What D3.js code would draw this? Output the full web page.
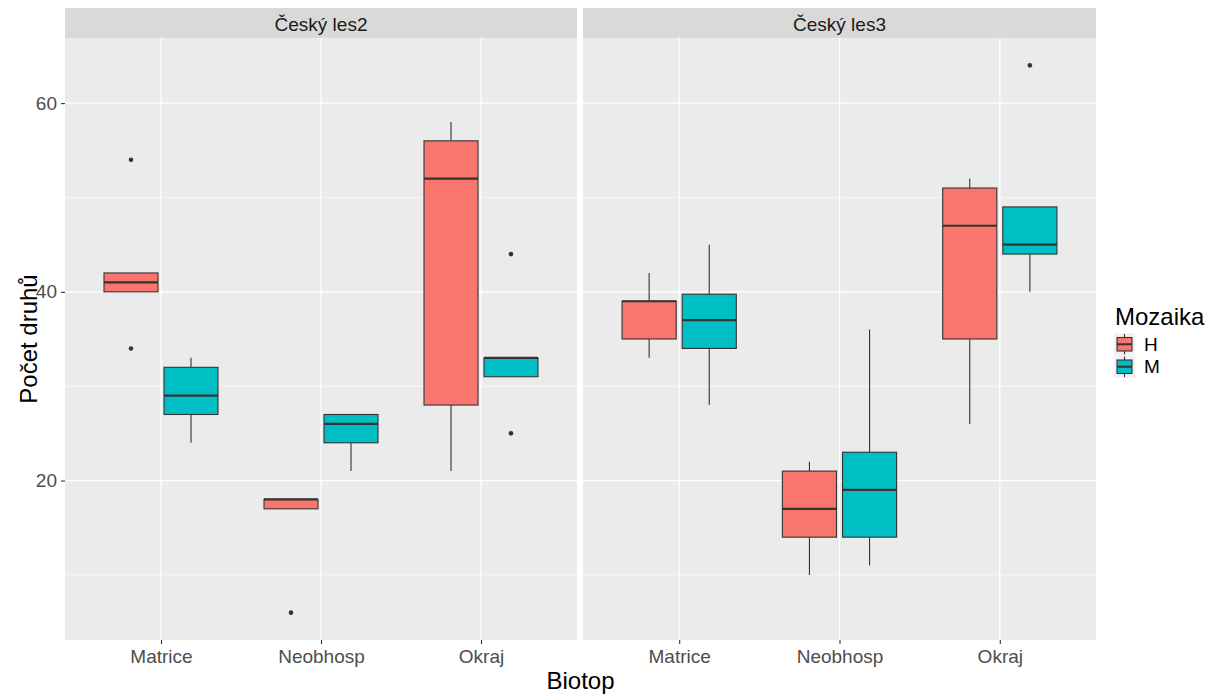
<!DOCTYPE html>
<html>
<head>
<meta charset="utf-8">
<script src="https://cdn.jsdelivr.net/npm/d3@7"></script>
<style>
  html, body { margin: 0; padding: 0; background: #ffffff; }
  svg { display: block; font-family: "Liberation Sans", Arial, sans-serif; }
</style>
</head>
<body>
<svg id="chart" width="1217" height="694"></svg>
<script>
// Facets, categories and groups
const facets = ["Český les2", "Český les3"];
const biotopes = ["Matrice", "Neobhosp", "Okraj"];
const mozaika = ["H", "M"];
const fillColors = ["#F8766D", "#00BFC4"];
const yTicks = [20, 40, 60];
const yMinorTicks = [10, 30, 50];

// Box statistics per biotope: [lower whisker, Q1, median, Q3, upper whisker]
const les2H = [[40, 40, 41, 42, 42], [17, 17, 18, 18, 18], [21, 28, 52, 56, 58]];
const les2M = [[24, 27, 29, 32, 33], [21, 24, 26, 27, 27], [31, 31, 33, 33, 33]];
const les3H = [[33, 35, 39, 39, 42], [10, 14, 17, 21, 22], [26, 35, 47, 51, 52]];
const les3M = [[28, 34, 37, 39.75, 45], [11, 14, 19, 23, 36], [40, 44, 45, 49, 49]];

// Outlying observations per biotope
const les2HOut = [[54, 34], [6], []];
const les2MOut = [[], [], [44, 25]];
const les3HOut = [[], [], []];
const les3MOut = [[], [], [64]];

const stats = [[les2H, les2M], [les3H, les3M]];
const outliers = [[les2HOut, les2MOut], [les3HOut, les3MOut]];

const svg = d3.select("#chart");

const panelTop = 38, panelBottom = 640;
const stripTop = 8;
const panelX = [[65, 577], [583, 1096]];

// y: data range expanded by 5% on each side
const allVals = [];
stats.forEach(f => f.forEach(g => g.forEach(s => allVals.push(s[0], s[4]))));
outliers.forEach(f => f.forEach(g => g.forEach(o => o.forEach(v => allVals.push(v)))));
const yLo = d3.min(allVals), yHi = d3.max(allVals);
const pad = (yHi - yLo) * 0.05;
const y = d3.scaleLinear().domain([yLo - pad, yHi + pad]).range([panelBottom, panelTop]);

const ink = "#333333";

facets.forEach((facet, fi) => {
  const [x0, x1] = panelX[fi];
  const x = d3.scalePoint().domain(biotopes).range([x0, x1]).padding(0.6);
  const step = x.step();
  const g = svg.append("g");

  // panel background
  g.append("rect").attr("x", x0).attr("y", panelTop)
    .attr("width", x1 - x0).attr("height", panelBottom - panelTop).attr("fill", "#EBEBEB");

  // grid
  g.selectAll(".minor").data(yMinorTicks).enter().append("line")
    .attr("x1", x0).attr("x2", x1).attr("y1", d => y(d)).attr("y2", d => y(d))
    .attr("stroke", "#ffffff").attr("stroke-width", 0.6);
  g.selectAll(".major").data(yTicks).enter().append("line")
    .attr("x1", x0).attr("x2", x1).attr("y1", d => y(d)).attr("y2", d => y(d))
    .attr("stroke", "#ffffff").attr("stroke-width", 1.2);
  g.selectAll(".vmajor").data(biotopes).enter().append("line")
    .attr("x1", d => x(d)).attr("x2", d => x(d)).attr("y1", panelTop).attr("y2", panelBottom)
    .attr("stroke", "#ffffff").attr("stroke-width", 1.2);

  // strip
  g.append("rect").attr("x", x0).attr("y", stripTop)
    .attr("width", x1 - x0).attr("height", panelTop - stripTop).attr("fill", "#D9D9D9");
  g.append("text").attr("x", (x0 + x1) / 2).attr("y", (stripTop + panelTop) / 2 + 1)
    .attr("text-anchor", "middle").attr("dominant-baseline", "central")
    .attr("font-size", 19).attr("fill", "#1A1A1A").text(facet);

  // boxes
  const boxW = step * 0.3375;
  mozaika.forEach((m, mi) => {
    const offset = (mi === 0 ? -1 : 1) * step * 0.1875;
    biotopes.forEach((b, bi) => {
      const s = stats[fi][mi][bi];
      const cx = x(b) + offset;
      const bg = g.append("g");
      bg.append("line").attr("x1", cx).attr("x2", cx).attr("y1", y(s[4])).attr("y2", y(s[3]))
        .attr("stroke", ink).attr("stroke-width", 1.1);
      bg.append("line").attr("x1", cx).attr("x2", cx).attr("y1", y(s[1])).attr("y2", y(s[0]))
        .attr("stroke", ink).attr("stroke-width", 1.1);
      bg.append("rect").attr("x", cx - boxW / 2).attr("y", y(s[3]))
        .attr("width", boxW).attr("height", Math.max(0.01, y(s[1]) - y(s[3])))
        .attr("fill", fillColors[mi]).attr("stroke", ink).attr("stroke-width", 1.1);
      bg.append("line").attr("x1", cx - boxW / 2).attr("x2", cx + boxW / 2)
        .attr("y1", y(s[2])).attr("y2", y(s[2]))
        .attr("stroke", ink).attr("stroke-width", 2.2);
      outliers[fi][mi][bi].forEach(v => {
        bg.append("circle").attr("cx", cx).attr("cy", y(v)).attr("r", 2.3).attr("fill", ink);
      });
    });
  });

  // x axis
  const xa = svg.append("g").attr("transform", `translate(0,${panelBottom})`)
    .call(d3.axisBottom(x).tickSize(4).tickPadding(6));
  xa.select(".domain").remove();
  xa.selectAll(".tick line").attr("stroke", ink).attr("stroke-width", 1.1);
  xa.selectAll(".tick text").attr("font-size", 19).attr("fill", "#4D4D4D")
    .attr("font-family", "Liberation Sans, Arial, sans-serif");
});

// y axis (left panel)
const ya = svg.append("g").attr("transform", `translate(${panelX[0][0]},0)`)
  .call(d3.axisLeft(y).tickValues(yTicks).tickSize(4).tickPadding(4));
ya.select(".domain").remove();
ya.selectAll(".tick line").attr("stroke", ink).attr("stroke-width", 1.1);
ya.selectAll(".tick text").attr("font-size", 19).attr("fill", "#4D4D4D")
  .attr("font-family", "Liberation Sans, Arial, sans-serif");

// axis titles
svg.append("text").attr("x", (panelX[0][0] + panelX[1][1]) / 2).attr("y", 689)
  .attr("text-anchor", "middle").attr("font-size", 24).attr("fill", "#000").text("Biotop");
svg.append("text").attr("transform", `translate(37,${(panelTop + panelBottom) / 2}) rotate(-90)`)
  .attr("text-anchor", "middle").attr("font-size", 24).attr("fill", "#000").text("Počet druhů");

// legend
const lg = svg.append("g");
lg.append("text").attr("x", 1115).attr("y", 325).attr("font-size", 24).attr("fill", "#000").text("Mozaika");
const keyW = 21, keyH = 22.5, keyX = 1114, keyY = 333;
mozaika.forEach((m, i) => {
  const ky = keyY + i * keyH;
  lg.append("rect").attr("x", keyX).attr("y", ky).attr("width", keyW).attr("height", keyH).attr("fill", "#F2F2F2");
  const cx = keyX + keyW / 2, cy = ky + keyH / 2;
  lg.append("line").attr("x1", cx).attr("x2", cx).attr("y1", ky + 1).attr("y2", ky + keyH - 1)
    .attr("stroke", ink).attr("stroke-width", 1.1);
  lg.append("rect").attr("x", keyX + 3).attr("y", ky + 4.5).attr("width", keyW - 6).attr("height", keyH - 9)
    .attr("fill", fillColors[i]).attr("stroke", ink).attr("stroke-width", 1.1);
  lg.append("line").attr("x1", keyX + 3).attr("x2", keyX + keyW - 3).attr("y1", cy).attr("y2", cy)
    .attr("stroke", ink).attr("stroke-width", 2);
  lg.append("text").attr("x", 1144).attr("y", cy).attr("dominant-baseline", "central")
    .attr("font-size", 19).attr("fill", "#000").text(m);
});
</script>
</body>
</html>
